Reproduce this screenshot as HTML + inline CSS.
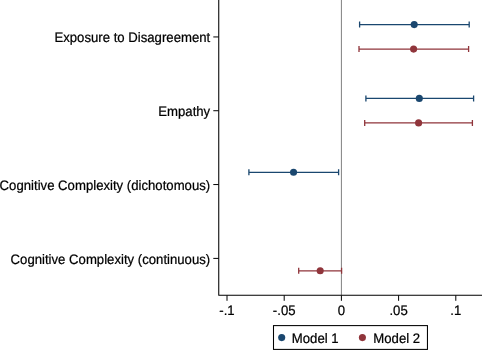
<!DOCTYPE html>
<html>
<head>
<meta charset="utf-8">
<title>Coefficient plot</title>
<style>
html,body{margin:0;padding:0;background:#fff;}
body{width:482px;height:350px;overflow:hidden;}
svg{display:block;}
text{font-family:"Liberation Sans",Arial,Helvetica,sans-serif;font-size:13.16px;fill:#000;stroke:#000;stroke-width:0.22px;text-rendering:geometricPrecision;}
</style>
</head>
<body>
<svg width="482" height="350" viewBox="0 0 482 350">
  <rect x="0" y="0" width="482" height="350" fill="#ffffff"/>

  <!-- zero reference line -->
  <line x1="341.4" y1="0" x2="341.4" y2="295" stroke="#808080" stroke-width="1"/>

  <!-- Model 1 (navy) -->
  <g stroke="#1a476f" stroke-width="1.3" fill="none">
    <path d="M359.6 24.58H469.2M359.6 21.58V27.58M469.2 21.58V27.58"/>
    <path d="M365.9 98.4H473.6M365.9 95.4V101.4M473.6 95.4V101.4"/>
    <path d="M248.9 172.3H338.6M248.9 169.3V175.3M338.6 169.3V175.3"/>
  </g>
  <g fill="#1a476f">
    <circle cx="414.2" cy="24.58" r="3.55"/>
    <circle cx="419.3" cy="98.4" r="3.55"/>
    <circle cx="293.55" cy="172.3" r="3.55"/>
  </g>

  <!-- Model 2 (maroon) -->
  <g stroke="#90353b" stroke-width="1.3" fill="none">
    <path d="M359 49.1H468.6M359 46.1V52.1M468.6 46.1V52.1"/>
    <path d="M364.7 122.9H472.4M364.7 119.9V125.9M472.4 119.9V125.9"/>
    <path d="M298.7 270.8H341.6M298.7 267.8V273.8M341.6 267.8V273.8"/>
  </g>
  <g fill="#90353b">
    <circle cx="413.6" cy="49.1" r="3.55"/>
    <circle cx="418.6" cy="122.9" r="3.55"/>
    <circle cx="320.2" cy="270.8" r="3.55"/>
  </g>

  <!-- axes -->
  <g stroke="#000" fill="none" stroke-linecap="round">
    <path d="M218.75 -1V295.3H483" stroke-width="1.05" stroke-linejoin="round"/>
  </g>
  <!-- y ticks -->
  <g stroke="#000" stroke-width="1" fill="none">
    <line x1="213.3" y1="36.95" x2="218.7" y2="36.95"/>
    <line x1="213.3" y1="110.73" x2="218.7" y2="110.73"/>
    <line x1="213.3" y1="184.55" x2="218.7" y2="184.55"/>
    <line x1="213.3" y1="258.4" x2="218.7" y2="258.4"/>
  </g>
  <!-- x ticks -->
  <g stroke="#000" stroke-width="1" fill="none">
    <line x1="227" y1="295.3" x2="227" y2="300.8"/>
    <line x1="284.2" y1="295.3" x2="284.2" y2="300.8"/>
    <line x1="341.4" y1="295.3" x2="341.4" y2="300.8"/>
    <line x1="398.6" y1="295.3" x2="398.6" y2="300.8"/>
    <line x1="455.8" y1="295.3" x2="455.8" y2="300.8"/>
  </g>

  <!-- y labels -->
  <g text-anchor="end">
    <text transform="translate(210.2 41.8) scale(1 1.045)">Exposure to Disagreement</text>
    <text transform="translate(210.2 115.65) scale(1 1.045)">Empathy</text>
    <text transform="translate(210.2 189.8) scale(1 1.045)">Cognitive Complexity (dichotomous)</text>
    <text transform="translate(210.2 263.55) scale(1 1.045)">Cognitive Complexity (continuous)</text>
  </g>

  <!-- x labels -->
  <g text-anchor="middle">
    <text transform="translate(227 315) scale(1 1.045)">-.1</text>
    <text transform="translate(284.2 315) scale(1 1.045)">-.05</text>
    <text transform="translate(341.4 315) scale(1 1.045)">0</text>
    <text transform="translate(398.6 315) scale(1 1.045)">.05</text>
    <text transform="translate(455.8 315) scale(1 1.045)">.1</text>
  </g>

  <!-- legend -->
  <rect x="273.5" y="325.6" width="153.95" height="23.8" fill="#fff" stroke="#000" stroke-width="1.05"/>
  <circle cx="281.7" cy="337.6" r="3.55" fill="#1a476f"/>
  <text transform="translate(291.8 342.6) scale(1 1.045)">Model 1</text>
  <circle cx="362.4" cy="337.6" r="3.55" fill="#90353b"/>
  <text transform="translate(373.3 342.6) scale(1 1.045)">Model 2</text>
</svg>
</body>
</html>
